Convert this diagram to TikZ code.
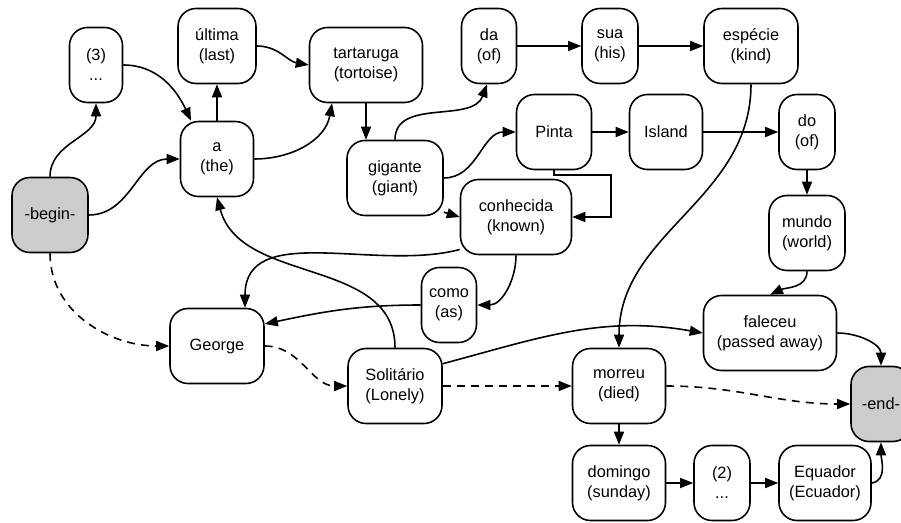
\documentclass[tikz,border=0pt]{standalone}
\usepackage{fontspec}
\setmainfont{Liberation Sans}
\usepackage{tikz}
\usetikzlibrary{arrows.meta,positioning}
\tikzstyle{word}=[rectangle,draw=black,line width=0.9pt,rounded corners=3.6mm,inner sep=1pt,minimum height=15mm,align=center,font=\fontsize{9.3}{11.3}\selectfont]
\tikzstyle{term}=[word,fill=black!20,minimum width=15.2mm]
\tikzstyle{link}=[-{Triangle[length=2.6mm,width=2mm]},line width=0.9pt]
\tikzstyle{guess}=[link,dash pattern=on 4.5pt off 3.5pt]

\begin{document}
\begin{tikzpicture}[on grid]
  \useasboundingbox (0,0) rectangle (18.02,-10.46);
  \clip (0,0) rectangle (18.02,-10.46);

    % Knoten
    \node[term] (begin) at (1.0,-4.3) {-begin-};
    \node[word, minimum width=10.6mm] (dots3) [above right=3.0cm and 0.92cm of begin] {(3)\\...};
    \node[word, minimum width=14.6mm] (a) [above right=1.12cm and 3.34cm of begin] {a\\(the)};
    \node[word, minimum width=15.6mm] (ultima) [above=2.26cm of a] {última\\(last)};
    \node[word, minimum width=22.6mm] (tartaruga) [below right=0.38cm and 2.98cm of ultima] {tartaruga\\(tortoise)};
    \node[word, minimum width=19.2mm] (gigante) [below right=2.26cm and 0.58cm of tartaruga] {gigante\\(giant)};
    \node[word, minimum width=11mm] (da) [right=5.44cm of ultima] {da\\(of)};
    \node[word, minimum width=11.2mm] (sua) [right=2.42cm of da] {sua\\(his)};
    \node[word, minimum width=18.8mm] (especie) [right=2.82cm of sua] {espécie\\(kind)};
    \node[word, minimum width=15mm] (pinta) [above right=0.92cm and 3.18cm of gigante] {Pinta};
    \node[word, minimum width=14.6mm] (island) [right=2.24cm of pinta] {Island};
    \node[word, minimum width=11.2mm] (do) [right=2.82cm of island] {do\\(of)};
    \node[word, minimum width=22.2mm] (conhecida) [below right=0.78cm and 2.42cm of gigante] {conhecida\\(known)};
    \node[word, minimum width=15.2mm] (mundo) [below=2.02cm of do] {mundo\\(world)};
    \node[word, minimum width=11mm] (como) [below left=1.76cm and 1.34cm of conhecida] {como\\(as)};
    \node[word, minimum width=18.8mm] (george) [below=3.74cm of a] {George};
    \node[word, minimum width=18.8mm] (solitario) [below right=0.8cm and 3.56cm of george] {Solitário\\(Lonely)};
    \node[word, minimum width=18.6mm] (morreu) [right=4.48cm of solitario] {morreu\\(died)};
    \node[word, minimum width=26.6mm] (faleceu) [above right=1.06cm and 3.02cm of morreu] {faleceu\\(passed away)};
    \node[word, minimum width=18.6mm] (domingo) [below=1.94cm of morreu] {domingo\\(sunday)};
    \node[word, minimum width=11.2mm] (dots2) [right=2.06cm of domingo] {(2)\\...};
    \node[word, minimum width=18.4mm] (equador) [right=2.06cm of dots2] {Equador\\(Ecuador)};
    \node[term, minimum width=12mm] (end) [above right=1.58cm and 1.12cm of equador] {-end-};

    % Kanten
    \draw [link] (begin.north) to[out=90,in=-90] (dots3.south);
    \draw [link] (begin.east) to[out=0,in=180] (a.west);
    \draw [guess] (begin.south) to[out=-90,in=180] (george.west);
    \draw [link] (dots3.east) to[out=0,in=115] ([xshift=-5.2mm]a.north);
    \draw [link] (a.north) -- (ultima.south);
    \draw [link] (ultima.east) to[out=0,in=170] (tartaruga.west);
    \draw [link] (a.east) to[out=0,in=-100] ([xshift=-6.8mm]tartaruga.south);
    \draw [link] (tartaruga.south) -- (tartaruga.south |- gigante.north);
    \draw [link] (gigante.north) to[out=90,in=-110] ([xshift=-0.4mm]da.south);
    \draw [link] (gigante.east) to[out=0,in=180] (pinta.west);
    \draw [link] (gigante.-35) -- (conhecida.west);
    \draw [link] (da) -- (sua);
    \draw [link] (sua) -- (especie);
    \draw [link] (pinta) -- (island);
    \draw [link] (island) -- (do);
    \draw [link] (pinta.south) -- ++(0,-0.1) -- ++(1.14,0) |- (conhecida.east);
    \draw [link] (do) -- (mundo);
    \draw [link] (mundo.south) to[out=-90,in=25] (faleceu.north);
    \draw [link] (especie.south) to[out=-90,in=90] (morreu.north);
    \draw [link] (conhecida.-150) to[out=195,in=90] ([xshift=5.6mm]george.north);
    \draw [link] (conhecida.south) to[out=-90,in=0] (como.east);
    \draw [link] (como.west) to[out=180,in=12] ([yshift=4.4mm]george.east);
    \draw [link] (solitario.north) to[out=90,in=-75] (a.south);
    \draw [guess] (george.east) to[out=0,in=180] (solitario.west);
    \draw [link] (solitario.25) to[out=15,in=170] (faleceu.west);
    \draw [guess] (solitario) -- (morreu);
    \draw [guess] (morreu.east) to[out=0,in=180] (end.west);
    \draw [link] (morreu) -- (domingo);
    \draw [link] (faleceu.east) to[out=0,in=90] (end.north);
    \draw [link] (domingo) -- (dots2);
    \draw [link] (dots2) -- (equador);
    \draw [link] (equador.east) to[out=10,in=-90] (end.south);

\end{tikzpicture}
\end{document}
